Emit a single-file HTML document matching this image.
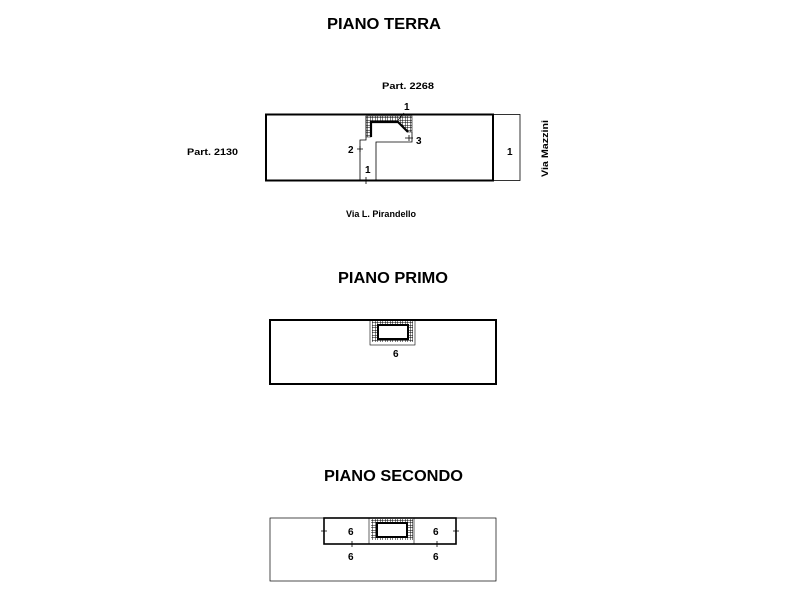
<!DOCTYPE html>
<html><head><meta charset="utf-8"><style>
html,body{margin:0;padding:0;background:#fff;}
svg{display:block;}
text{font-family:"Liberation Sans",Arial,sans-serif;font-weight:bold;fill:#000;}
</style></head><body>
<svg width="800" height="600" viewBox="0 0 800 600" xmlns="http://www.w3.org/2000/svg">
<defs>
<pattern id="h" width="2.5" height="2.5" patternUnits="userSpaceOnUse">
<rect width="2.5" height="2.5" fill="#fff"/>
<path d="M0 0H2.5M0 0V2.5" stroke="#000" stroke-width="1"/>
</pattern>
</defs>
<!-- PIANO TERRA -->
<text x="327" y="29" font-size="16" textLength="114" lengthAdjust="spacingAndGlyphs">PIANO TERRA</text>
<text x="382" y="89" font-size="9.5" textLength="52" lengthAdjust="spacingAndGlyphs">Part. 2268</text>
<text x="187" y="155" font-size="9.5" textLength="51" lengthAdjust="spacingAndGlyphs">Part. 2130</text>
<text x="346" y="217" font-size="9.5" textLength="70" lengthAdjust="spacingAndGlyphs">Via L. Pirandello</text>
<text transform="translate(548,177) rotate(-90)" font-size="9.5" textLength="57" lengthAdjust="spacingAndGlyphs">Via Mazzini</text>
<rect x="266" y="114.5" width="227" height="66" fill="none" stroke="#000" stroke-width="2"/>
<rect x="493" y="114.5" width="27" height="66" fill="none" stroke="#000" stroke-width="0.8"/>
<text x="507" y="155" font-size="10">1</text>
<!-- stair -->
<path d="M366 116 H412 V132 L408 132 L398 122 H371 V137 H366 Z" fill="url(#h)" stroke="#000" stroke-width="0.6"/>
<path d="M371 137 V122 H398 L408 132" fill="none" stroke="#000" stroke-width="2.2"/>
<path d="M366 116 V140 H360 V180 M376 180 V142 H412 V132" fill="none" stroke="#000" stroke-width="0.8"/>
<path d="M398 120 L404 113" stroke="#000" stroke-width="0.7"/>
<text x="404" y="110" font-size="10">1</text>
<path d="M357 149 H363 M360 146 V152 M405 138 H413 M409 135 V141 M366 177 V184 M363 180 H369" stroke="#000" stroke-width="0.8"/>
<text x="348" y="153" font-size="10">2</text>
<text x="416" y="144" font-size="10">3</text>
<text x="365" y="173" font-size="10">1</text>

<!-- PIANO PRIMO -->
<text x="338" y="283" font-size="16" textLength="110" lengthAdjust="spacingAndGlyphs">PIANO PRIMO</text>
<rect x="270" y="320" width="226" height="64" fill="none" stroke="#000" stroke-width="2"/>
<rect x="370" y="320" width="45" height="25" fill="none" stroke="#000" stroke-width="0.6"/>
<rect x="372" y="321" width="41" height="21" fill="url(#h)"/>
<rect x="378" y="325" width="30" height="14" fill="#fff" stroke="#000" stroke-width="2"/>
<text x="393" y="357" font-size="10">6</text>

<!-- PIANO SECONDO -->
<text x="324" y="481" font-size="16" textLength="139" lengthAdjust="spacingAndGlyphs">PIANO SECONDO</text>
<rect x="270" y="518" width="226" height="63" fill="none" stroke="#000" stroke-width="0.7"/>
<rect x="324" y="518" width="132" height="26" fill="none" stroke="#000" stroke-width="1.6"/>
<path d="M369 518 V544 M414 518 V544" stroke="#000" stroke-width="0.6"/>
<rect x="371" y="519" width="42" height="21" fill="url(#h)"/>
<rect x="377" y="523" width="30" height="14" fill="#fff" stroke="#000" stroke-width="2"/>
<path d="M321 531 H327 M453 531 H459 M352 541 V547 M437 541 V547" stroke="#000" stroke-width="0.8"/>
<text x="348" y="535" font-size="10">6</text>
<text x="433" y="535" font-size="10">6</text>
<text x="348" y="560" font-size="10">6</text>
<text x="433" y="560" font-size="10">6</text>
</svg>
</body></html>
